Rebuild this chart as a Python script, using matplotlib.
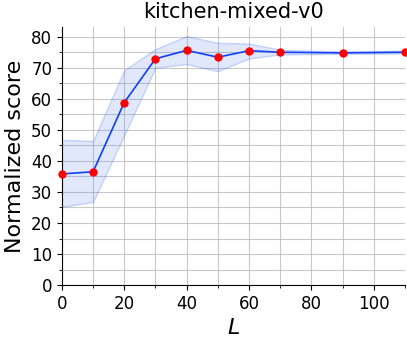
import matplotlib
matplotlib.use("Agg")
import matplotlib.pyplot as plt
from matplotlib.ticker import MultipleLocator

L_vals = [0, 10, 20, 30, 40, 50, 60, 70, 90, 110]
score = [35.8, 36.5, 58.8, 72.9, 75.6, 73.4, 75.5, 75.0, 74.8, 75.0]
score_low = [25.2, 26.8, 48.3, 70.0, 71.2, 68.9, 73.0, 74.3, 74.5, 74.6]
score_high = [46.8, 46.4, 69.2, 76.0, 80.2, 78.0, 77.8, 75.8, 75.2, 75.5]


def main():
    fig = plt.figure(figsize=(4.07, 3.39), dpi=100)
    ax = fig.add_axes([0.152, 0.159, 0.843, 0.762])

    ax.fill_between(L_vals, score_low, score_high, facecolor=(0.23, 0.42, 0.94, 0.15),
                    edgecolor=(0.23, 0.42, 0.94, 0.25), linewidth=1)
    ax.plot(L_vals, score, color="#1040f8", linewidth=1.2, zorder=3)
    ax.plot(L_vals, score, "o", color="#ff0000", markersize=5, zorder=4,
            clip_on=False)

    ax.set_xlim(0, 110)
    ax.set_ylim(0, 83.2)
    ax.xaxis.set_major_locator(MultipleLocator(20))
    ax.xaxis.set_minor_locator(MultipleLocator(10))
    ax.yaxis.set_major_locator(MultipleLocator(10))
    ax.yaxis.set_minor_locator(MultipleLocator(5))
    ax.grid(True, which="both", color="#bbbbbb", linewidth=0.8, alpha=0.8)
    ax.set_axisbelow(True)

    ax.spines["top"].set_visible(False)
    ax.spines["right"].set_visible(False)
    ax.tick_params(labelsize=12)

    ax.set_title("kitchen-mixed-v0", fontsize=15)
    ax.set_xlabel("$L$", fontsize=16)
    ax.set_ylabel("Normalized score", fontsize=16)

    fig.savefig("out.png", dpi=100)


if __name__ == "__main__":
    main()
